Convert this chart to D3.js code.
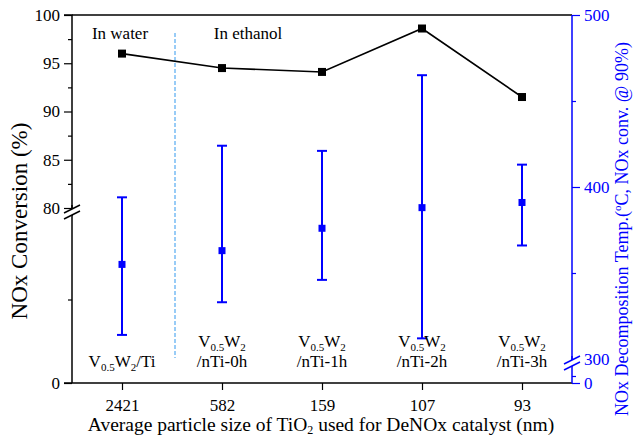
<!DOCTYPE html>
<html>
<head>
<meta charset="utf-8">
<title>NOx conversion vs TiO2 particle size</title>
<script src="https://cdnjs.cloudflare.com/ajax/libs/d3/7.8.5/d3.min.js"></script>
<style>
body { margin: 0; background: #fff; }
</style>
</head>
<body>
<div id="chart"></div>
<script>
// particle sizes (x categories)
var sizes = ["2421", "582", "159", "107", "93"];
// catalyst names shown inside the plot
var catalysts = ["/Ti", "/nTi-0h", "/nTi-1h", "/nTi-2h", "/nTi-3h"];
// NOx conversion (%), left axis
var conversion = [96.0, 94.5, 94.1, 98.6, 91.5];
// decomposition temperature (C), right axis: mean, upper and lower bars
var tempMean = [355, 363, 376, 388, 391];
var tempHigh = [394, 424, 421, 465, 413];
var tempLow = [314, 333, 346, 312, 366];
// tick values
var leftMajor = [80, 85, 90, 95, 100];
var leftMinor = [82.5, 87.5, 92.5, 97.5];
var rightMajor = [300, 400, 500];
var rightMinor = [350, 450];

var W = 634, H = 436;
var x0 = 72, x1 = 572, yTop = 15, yBot = 383;
var blue = "#0000ff";
var fs = 17;

var svg = d3.select("#chart").append("svg")
    .attr("width", W).attr("height", H);

var x = d3.scalePoint().domain(sizes).range([x0, x1]).padding(0.5);

// broken left axis: 0-80 squeezed below, 80-100 above
var yUp = d3.scaleLinear().domain([80, 100]).range([208, yTop]);
var yLow = d3.scaleLinear().domain([0, 80]).range([yBot, 216]);
// broken right axis
var rUp = d3.scaleLinear().domain([300, 500]).range([359, yTop]);
var rLow = d3.scaleLinear().domain([0, 300]).range([yBot, 369]);

// top frame line
svg.append("line").attr("x1", x0).attr("x2", x1).attr("y1", yTop).attr("y2", yTop)
    .attr("stroke", "#000").attr("stroke-width", 1.5);

// bottom axis
var gx = svg.append("g").attr("transform", "translate(0," + yBot + ")")
    .call(d3.axisBottom(x).tickSize(7).tickPadding(9));
gx.select(".domain").attr("d", "M" + (x0 - 8) + ",0H" + x1).attr("stroke-width", 1.5);
gx.selectAll("line").attr("stroke-width", 1.2);
gx.selectAll("text").attr("font-size", fs).attr("fill", "#000");

// left axis
function leftAxis(scale, major, minor) {
    var g = svg.append("g").attr("transform", "translate(" + x0 + ",0)");
    g.call(d3.axisLeft(scale).tickValues(major).tickSize(8).tickPadding(4));
    g.selectAll("text").attr("font-size", fs).attr("fill", "#000");
    g.selectAll("line").attr("stroke-width", 1.2);
    g.select(".domain").attr("stroke-width", 1.5);
    var m = svg.append("g").attr("transform", "translate(" + x0 + ",0)");
    m.call(d3.axisLeft(scale).tickValues(minor).tickSize(4).tickFormat(""));
    m.select(".domain").remove();
    m.selectAll("line").attr("stroke-width", 1.2);
    return g;
}
var gl = leftAxis(yUp, leftMajor, leftMinor);
gl.select(".domain").attr("d", "M-8," + yTop + "H0V216");
var gl2 = leftAxis(yLow, [0], [40]);
gl2.select(".domain").attr("d", "M0,205V" + yBot);

// right axis (blue)
function rightAxis(scale, major, minor) {
    var g = svg.append("g").attr("transform", "translate(" + x1 + ",0)");
    g.call(d3.axisRight(scale).tickValues(major).tickSize(8).tickPadding(4));
    g.selectAll("text").attr("font-size", fs).attr("fill", blue);
    g.selectAll("line").attr("stroke", blue).attr("stroke-width", 1.2);
    g.select(".domain").attr("stroke", blue).attr("stroke-width", 1.5);
    var m = svg.append("g").attr("transform", "translate(" + x1 + ",0)");
    m.call(d3.axisRight(scale).tickValues(minor).tickSize(4).tickFormat(""));
    m.select(".domain").remove();
    m.selectAll("line").attr("stroke", blue).attr("stroke-width", 1.2);
    return g;
}
var gr = rightAxis(rUp, rightMajor, rightMinor);
gr.select(".domain").attr("d", "M0," + yTop + "V366");
var gr2 = rightAxis(rLow, [0], [150]);
gr2.select(".domain").attr("d", "M0,356V" + yBot);

// axis break marks
function breakMark(cx, cy, color) {
    var b = svg.append("g").attr("transform", "translate(" + cx + "," + cy + ")");
    b.append("path").attr("d", "M-8,1L8,-7L8,-1L-8,7Z").attr("fill", "#fff");
    b.append("line").attr("x1", -8).attr("y1", 1).attr("x2", 8).attr("y2", -7)
        .attr("stroke", color).attr("stroke-width", 1.5);
    b.append("line").attr("x1", -8).attr("y1", 7).attr("x2", 8).attr("y2", -1)
        .attr("stroke", color).attr("stroke-width", 1.5);
}
breakMark(x0, 212, "#000");
breakMark(x1, 363, blue);

// dashed separator water / ethanol
var sepX = (x(sizes[0]) + x(sizes[1])) / 2 + 3;
svg.append("line").attr("x1", sepX).attr("x2", sepX).attr("y1", 33).attr("y2", 358)
    .attr("stroke", "#3399ee").attr("stroke-width", 1).attr("stroke-dasharray", "4,2");

svg.append("text").attr("x", 120).attr("y", 39).attr("text-anchor", "middle")
    .attr("font-size", fs).text("In water");
svg.append("text").attr("x", 248).attr("y", 39).attr("text-anchor", "middle")
    .attr("font-size", fs).text("In ethanol");

// conversion line (black)
var line = d3.line().x(function(d, i) { return x(sizes[i]); }).y(function(d) { return yUp(d); });
svg.append("path").datum(conversion).attr("d", line)
    .attr("fill", "none").attr("stroke", "#000").attr("stroke-width", 1.6);
svg.selectAll(".conv").data(conversion).enter().append("rect")
    .attr("x", function(d, i) { return x(sizes[i]) - 4; })
    .attr("y", function(d) { return yUp(d) - 4; })
    .attr("width", 8).attr("height", 8).attr("fill", "#000");

// temperature error bars (blue)
var eb = svg.selectAll(".eb").data(tempMean).enter().append("g");
eb.append("line")
    .attr("x1", function(d, i) { return x(sizes[i]); })
    .attr("x2", function(d, i) { return x(sizes[i]); })
    .attr("y1", function(d, i) { return rUp(tempHigh[i]); })
    .attr("y2", function(d, i) { return rUp(tempLow[i]); })
    .attr("stroke", blue).attr("stroke-width", 2);
eb.append("line")
    .attr("x1", function(d, i) { return x(sizes[i]) - 5; })
    .attr("x2", function(d, i) { return x(sizes[i]) + 5; })
    .attr("y1", function(d, i) { return rUp(tempHigh[i]); })
    .attr("y2", function(d, i) { return rUp(tempHigh[i]); })
    .attr("stroke", blue).attr("stroke-width", 2);
eb.append("line")
    .attr("x1", function(d, i) { return x(sizes[i]) - 5; })
    .attr("x2", function(d, i) { return x(sizes[i]) + 5; })
    .attr("y1", function(d, i) { return rUp(tempLow[i]); })
    .attr("y2", function(d, i) { return rUp(tempLow[i]); })
    .attr("stroke", blue).attr("stroke-width", 2);
eb.append("rect")
    .attr("x", function(d, i) { return x(sizes[i]) - 3.5; })
    .attr("y", function(d) { return rUp(d) - 3.5; })
    .attr("width", 7).attr("height", 7).attr("fill", blue);

// catalyst labels inside the plot
function vw(t) {
    t.append("tspan").text("V");
    t.append("tspan").attr("font-size", 11).attr("dy", 4).text("0.5");
    t.append("tspan").attr("dy", -4).text("W");
    t.append("tspan").attr("font-size", 11).attr("dy", 4).text("2");
}
catalysts.forEach(function(c, i) {
    if (i === 0) {
        var t = svg.append("text").attr("x", x(sizes[i])).attr("y", 367)
            .attr("text-anchor", "middle").attr("font-size", fs);
        vw(t);
        t.append("tspan").attr("dy", -4).text(c);
    } else {
        var t1 = svg.append("text").attr("x", x(sizes[i])).attr("y", 347)
            .attr("text-anchor", "middle").attr("font-size", fs);
        vw(t1);
        svg.append("text").attr("x", x(sizes[i])).attr("y", 367)
            .attr("text-anchor", "middle").attr("font-size", fs).text(c);
    }
});

// axis titles
var xt = svg.append("text").attr("x", 321).attr("y", 431)
    .attr("text-anchor", "middle").attr("font-size", 19.5);
xt.append("tspan").text("Average particle size of TiO");
xt.append("tspan").attr("font-size", 12).attr("dy", 3).text("2");
xt.append("tspan").attr("dy", -3).text(" used for DeNOx catalyst (nm)");

svg.append("text").attr("transform", "translate(27,221) rotate(-90)")
    .attr("text-anchor", "middle").attr("font-size", 23).text("NOx Conversion (%)");

var rt = svg.append("text").attr("transform", "translate(628,229) rotate(-90)")
    .attr("text-anchor", "middle").attr("font-size", 18).attr("fill", blue);
rt.append("tspan").text("NOx Decomposition Temp.(");
rt.append("tspan").attr("font-size", 11).attr("dy", -7).text("o");
rt.append("tspan").attr("dy", 7).text("C, NOx conv. @ 90%)");

// Times-like face for every label
svg.selectAll("text").style("font-family", "Liberation Serif");
</script>
</body>
</html>
